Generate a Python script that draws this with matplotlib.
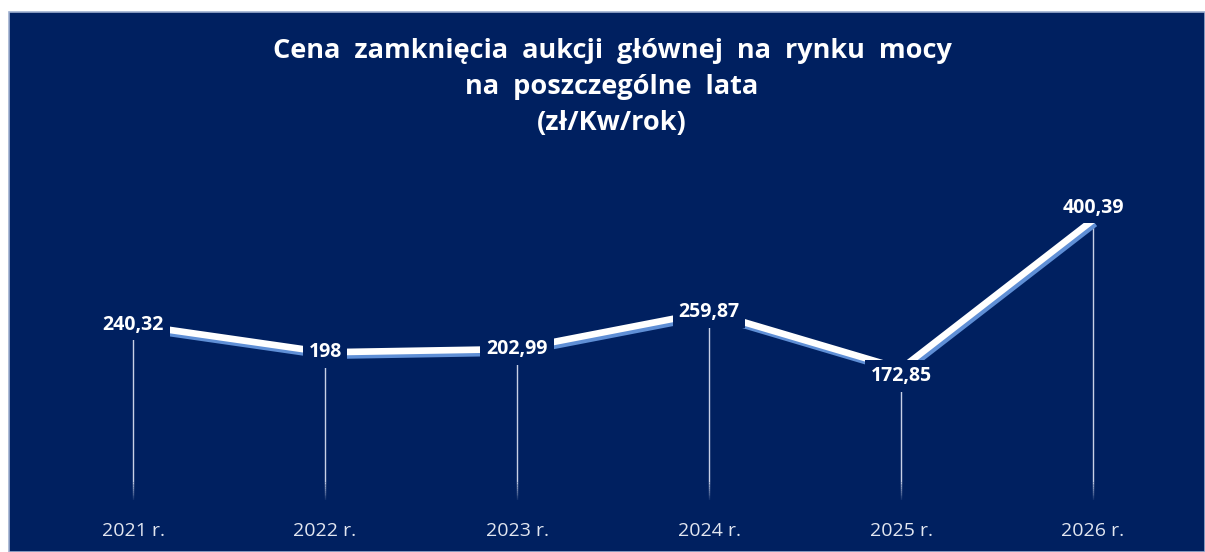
import matplotlib
matplotlib.use("Agg")
import matplotlib.pyplot as plt
import matplotlib.patheffects as pe
from matplotlib.patches import Rectangle

# ---- data ----
years = ["2021 r.", "2022 r.", "2023 r.", "2024 r.", "2025 r.", "2026 r."]
prices = [240.32, 198.0, 202.99, 259.87, 172.85, 400.39]
price_labels = ["240,32", "198", "202,99", "259,87", "172,85", "400,39"]
title = ("Cena  zamknięcia  aukcji  głównej  na  rynku  mocy\n"
         "na  poszczególne  lata\n(zł/Kw/rok)")

NAVY = "#002060"
W, H = 1205, 552
fig = plt.figure(figsize=(W / 100, H / 100), dpi=100, facecolor="white")

# navy panel
panel = Rectangle((9 / W, 0), 1 - 9 / W, 1 - 12 / H, transform=fig.transFigure,
                  facecolor=NAVY, edgecolor="#9fb0d0", linewidth=1.2, zorder=-10)
fig.patches.append(panel)

YMIN, YMAX = -28, 450
ax = fig.add_axes([37 / W, 52 / H, 1152 / W, 312.4 / H])
ax.set_facecolor("none")
ax.set_zorder(5)
for s in ax.spines.values():
    s.set_visible(False)

x = list(range(len(years)))
ax.set_xlim(-0.5, len(years) - 0.5)
ax.set_ylim(YMIN, YMAX)

# drop lines (solid part + fading bottom)
ax.vlines(x, 0, prices, colors="#c8d0e6", linewidth=1.0, zorder=1)
nfade = 10
for k in range(nfade):
    y0 = YMIN + (0 - YMIN) * k / nfade
    y1 = YMIN + (0 - YMIN) * (k + 1) / nfade
    ax.vlines(x, y0, y1, colors="#c8d0e6", linewidth=1.0, alpha=(k + 1) / (nfade + 1), zorder=1)

# main line with blue shadow
ax.plot(x, prices, color="white", linewidth=4.8, solid_capstyle="butt", zorder=2,
        path_effects=[pe.SimpleLineShadow(offset=(1.5, -2.5), shadow_color="#5f8fd6", alpha=1.0),
                      pe.Normal()])

# data labels
label_dy = [0, 0, 0, 0, -5, 9]
for xi, yi, lab, dy in zip(x, prices, price_labels, label_dy):
    ax.annotate(lab, (xi, yi), xytext=(0, dy), textcoords="offset points",
                ha="center", va="center", color="white", fontsize=14,
                fontfamily="Open Sans", fontweight="bold", zorder=4,
                bbox=dict(boxstyle="square,pad=0.3", facecolor=NAVY, edgecolor="none"))

ax.set_yticks([])
ax.set_xticks(x)
ax.set_xticklabels(years, color="#e2e6f0", fontsize=14, fontfamily="Open Sans")
ax.tick_params(axis="x", length=0, pad=16)

fig.text(612 / W, 1 - 87 / H, title, ha="center", va="center", color="white",
         fontsize=19.5, fontfamily="Open Sans", fontweight="bold", linespacing=1.48)

fig.savefig("out.png", dpi=100, facecolor="white")
